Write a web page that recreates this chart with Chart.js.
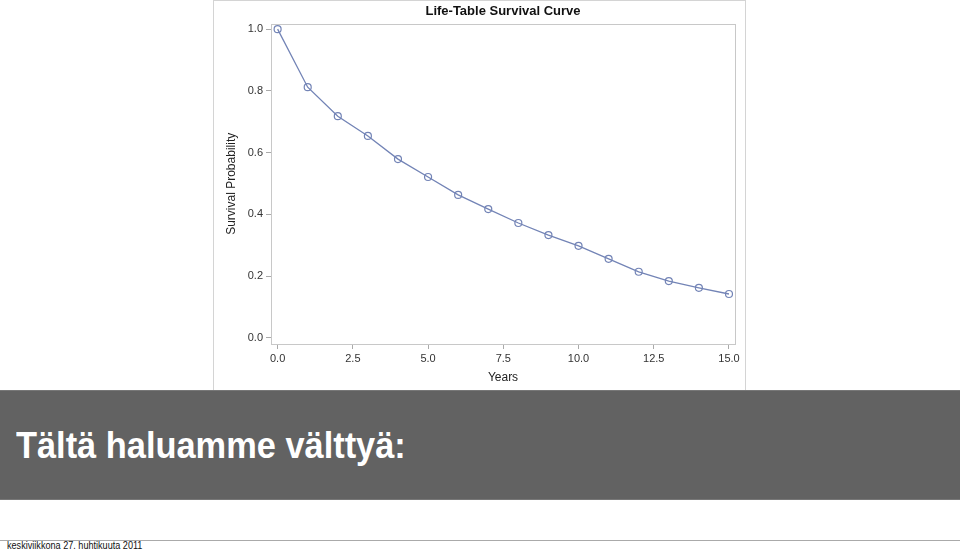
<!DOCTYPE html>
<html>
<head>
<meta charset="utf-8">
<script src="https://cdn.jsdelivr.net/npm/chart.js@4.4.0/dist/chart.umd.min.js"></script>
<style>
  body { margin: 0; width: 960px; height: 550px; background: #fff; position: relative; overflow: hidden; font-family: "Liberation Sans", Arial, sans-serif; }
  #panel { position: absolute; left: 213px; top: 0; width: 533px; height: 390px; border: 1px solid #d4d4d4; border-bottom: none; box-sizing: border-box; }
  #panel canvas { position: absolute; left: 0; top: 0; }
  #banner { position: absolute; left: 0; top: 390px; width: 960px; height: 110px; background: #626262; border-top: 1px solid #777; border-bottom: 1px solid #777; box-sizing: border-box; }
  #banner span { position: absolute; left: 16px; top: 37px; color: #fff; font-weight: bold; font-size: 36px; line-height: 36px; white-space: nowrap; transform: scaleX(0.955); transform-origin: left top; }
  #footline { position: absolute; left: 0; top: 540px; width: 960px; height: 1px; background: #aaa; }
  #footer { position: absolute; left: 7px; top: 541px; font-size: 10px; line-height: 10px; color: #111; white-space: nowrap; transform: scaleX(0.91); transform-origin: left top; }
</style>
</head>
<body>
<div id="panel"><canvas id="grafico"></canvas></div>
<div id="banner"><span>Tältä haluamme välttyä:</span></div>
<div id="footline"></div>
<div id="footer">keskiviikkona 27. huhtikuuta 2011</div>
<script>
// Datos
const years = [0, 1, 2, 3, 4, 5, 6, 7, 8, 9, 10, 11, 12, 13, 14, 15];
const survival = [1.0, 0.812, 0.718, 0.654, 0.579, 0.521, 0.463, 0.417, 0.372, 0.333, 0.298, 0.256, 0.214, 0.184, 0.162, 0.142];
const xTicks = [0, 2.5, 5, 7.5, 10, 12.5, 15];
const yTicks = [0, 0.2, 0.4, 0.6, 0.8, 1.0];

const lineColor = '#7384b6';

// marco gris alrededor del área del gráfico
const frame = {
  id: 'frame',
  afterDraw(chart) {
    const a = chart.chartArea, c = chart.ctx;
    c.save();
    c.strokeStyle = '#c8c8c8';
    c.lineWidth = 1;
    c.strokeRect(Math.round(a.left) + 0.5, Math.round(a.top) + 0.5, Math.round(a.right - a.left), Math.round(a.bottom - a.top));
    c.restore();
  }
};

const canvas = document.getElementById('grafico');
canvas.width = 533; canvas.height = 390;

new Chart(canvas.getContext('2d'), {
  type: 'line',
  data: {
    datasets: [{
      data: years.map((x, i) => ({ x: x, y: survival[i] })),
      borderColor: lineColor,
      borderWidth: 1.3,
      pointRadius: 3.5,
      pointBorderWidth: 1.2,
      pointBackgroundColor: 'rgba(0,0,0,0)',
      pointBorderColor: lineColor,
      tension: 0
    }]
  },
  options: {
    responsive: false,
    animation: false,
    layout: { padding: { left: 0, right: 12, top: 0, bottom: 0 } },
    plugins: {
      legend: { display: false },
      tooltip: { enabled: false },
      title: {
        display: true,
        fullSize: false,
        text: 'Life-Table Survival Curve',
        color: '#111',
        font: { family: 'Liberation Sans', size: 13, weight: 'bold' },
        padding: { top: 3, bottom: 4 }
      }
    },
    scales: {
      x: {
        type: 'linear',
        min: -0.22, max: 15.2,
        afterBuildTicks: s => { s.ticks = xTicks.map(v => ({ value: v })); },
        afterFit: s => { s.height = 47; },
        grid: { drawOnChartArea: false, drawTicks: true, tickLength: 5, color: '#aaa' },
        border: { display: false },
        ticks: { color: '#333', padding: 3, maxRotation: 0, font: { family: 'Liberation Sans', size: 11 }, callback: v => v.toFixed(1) },
        title: { display: true, text: 'Years', color: '#222', font: { family: 'Liberation Sans', size: 12 }, padding: { top: 0, bottom: 6 } }
      },
      y: {
        min: -0.02, max: 1.018,
        afterBuildTicks: s => { s.ticks = yTicks.map(v => ({ value: v })); },
        afterFit: s => { s.width = 57; },
        grid: { drawOnChartArea: false, drawTicks: true, tickLength: 5, color: '#aaa' },
        border: { display: false },
        ticks: { color: '#333', padding: 3, font: { family: 'Liberation Sans', size: 11 }, callback: v => v.toFixed(1) },
        title: { display: true, text: 'Survival Probability', color: '#222', font: { family: 'Liberation Sans', size: 12 }, padding: { top: 10, bottom: 0 } }
      }
    }
  },
  plugins: [frame]
});
</script>
</body>
</html>
